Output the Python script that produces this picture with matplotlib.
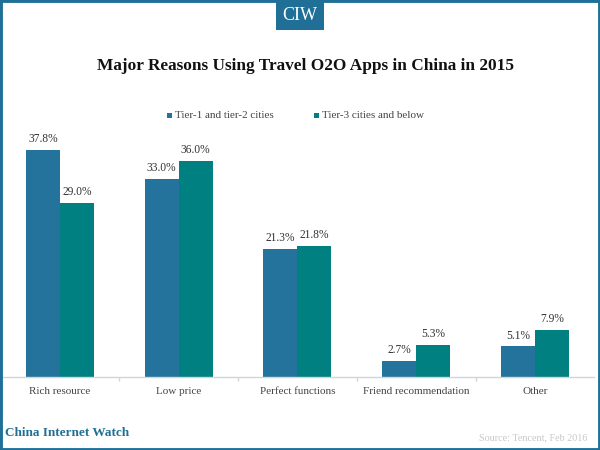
import matplotlib
matplotlib.use("Agg")
import matplotlib.pyplot as plt
from matplotlib.patches import Rectangle
import numpy as np

categories = ["Rich resource", "Low price", "Perfect functions", "Friend recommendation", "Other"]
tier12 = [37.8, 33.0, 21.3, 2.7, 5.1]
tier3 = [29.0, 36.0, 21.8, 5.3, 7.9]
series_names = ["Tier-1 and tier-2 cities", "Tier-3 cities and below"]
C1 = "#24739c"
C2 = "#008080"
BORDER = "#1f6f96"
W, H = 600, 450

plt.rcParams["font.family"] = ["Liberation Serif", "DejaVu Serif"]
fig = plt.figure(figsize=(W / 100, H / 100), dpi=100, facecolor="white")
ax = fig.add_axes([0.6 / W, 1 - 377 / H, 593.75 / W, 247 / H])
x = np.arange(len(categories))
bw = 34 / 118.75
b1 = ax.bar(x - bw / 2, tier12, bw, color=C1)
b2 = ax.bar(x + bw / 2, tier3, bw, color=C2)
for bars, vals in ((b1, tier12), (b2, tier3)):
    for r, v in zip(bars, vals):
        ax.annotate(f"{v:.1f}%", (r.get_x() + r.get_width() / 2, v), xytext=(0, 3.5),
                    textcoords="offset points", ha="center", va="bottom", fontsize=8.3, color="#333333")
ax.set_xlim(-0.5, 4.5)
ax.set_ylim(0, 247 / 6.0)
ax.set_yticks([])
for s in ("top", "left", "right"):
    ax.spines[s].set_visible(False)
ax.spines["bottom"].set_color("#d0d5d8")
ax.spines["bottom"].set_linewidth(1)
ax.set_xticks(x, categories, fontsize=8, color="#444444")
ax.set_xticks(np.arange(0.5, 4.5, 1), minor=True)
ax.tick_params(axis="x", which="major", length=0, pad=7.5)
ax.tick_params(axis="x", which="minor", length=3, color="#d0d5d8", width=1)

def px(xp, yp):
    return xp / W, 1 - yp / H

fig.add_artist(Rectangle((0, 0), 1, 1, transform=fig.transFigure, fill=False, edgecolor=BORDER, linewidth=3.5))
fig.add_artist(Rectangle(px(276, 30), 48 / W, 28 / H, transform=fig.transFigure, facecolor=BORDER, edgecolor="none"))
fig.text(*px(300, 16), "CIW", color="white", fontsize=13, ha="center", va="center")
fig.text(*px(305.5, 66), "Major Reasons Using Travel O2O Apps in China in 2015", fontsize=12.4,
         fontweight="bold", color="#111111", ha="center", va="center")
for lx, tx, name, c in ((167, 175, series_names[0], C1), (314, 322, series_names[1], C2)):
    fig.add_artist(Rectangle(px(lx, 118), 5 / W, 5 / H, transform=fig.transFigure, facecolor=c, edgecolor="none"))
    fig.text(*px(tx, 115), name, fontsize=8, color="#444444", ha="left", va="center")
fig.text(*px(5, 433), "China Internet Watch", fontsize=9.5, fontweight="bold", color=BORDER, ha="left", va="center")
fig.text(*px(587, 438), "Source: Tencent, Feb 2016", fontsize=7.3, color="#c8c8c8", ha="right", va="center")
fig.savefig("out.png", dpi=100)
